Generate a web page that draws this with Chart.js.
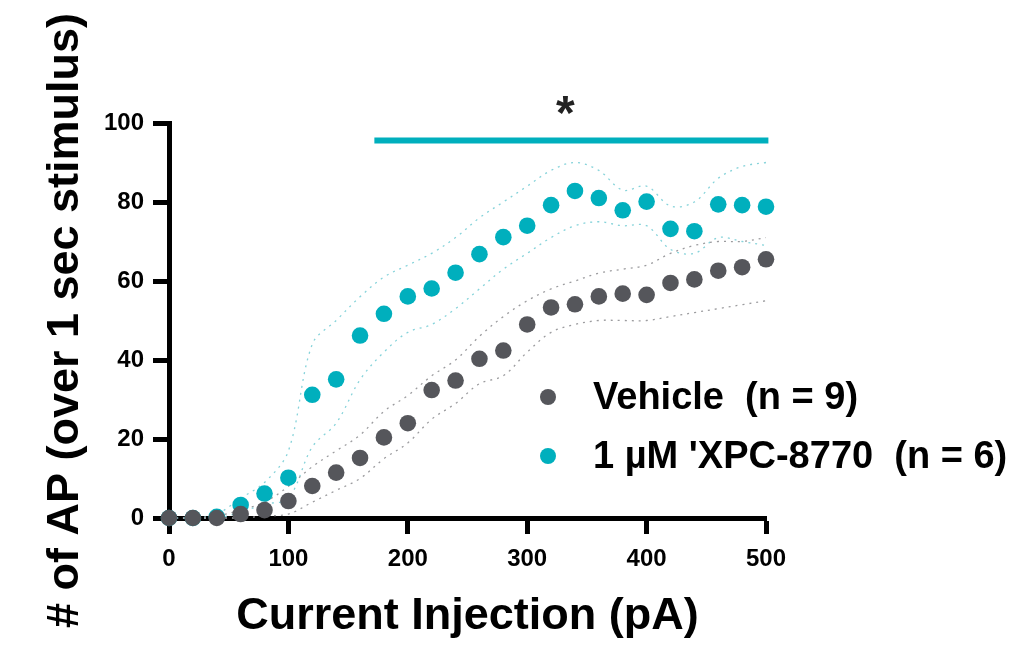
<!DOCTYPE html>
<html>
<head>
<meta charset="utf-8">
<script src="https://cdn.jsdelivr.net/npm/chart.js@4.4.1/dist/chart.umd.min.js"></script>
<style>
  html, body { margin: 0; padding: 0; background: #fff; }
  #wrap { width: 1012px; height: 655px; }
</style>
</head>
<body>
<div id="wrap"><canvas id="chart" width="1012" height="655"></canvas></div>
<script>
/* data */
const currents = [0, 20, 40, 60, 80, 100, 120, 140, 160, 180, 200, 220, 240, 260, 280, 300, 320, 340, 360, 380, 400, 420, 440, 460, 480, 500];

const vehicle      = [0, 0, 0, 1.0, 2.0, 4.3, 8.1, 11.5, 15.2, 20.4, 24.0, 32.4, 34.8, 40.3, 42.4, 49.0, 53.3, 54.1, 56.1, 56.8, 56.5, 59.5, 60.4, 62.6, 63.5, 65.5];
const vehicleUpper = [0, 0, 0.5, 2, 4, 8, 13, 17, 21, 27, 31, 36, 40, 46, 51, 55, 58, 60, 62, 63, 64, 67, 69, 70, 70, 71];
const vehicleLower = [0, 0, 0, 0, 0.5, 1, 4, 7, 10, 15, 19, 25, 29, 34, 36, 42, 47, 49, 50, 50, 50, 51, 52, 53, 54, 55];

const xpc      = [0, 0, 0.3, 3.3, 6.2, 10.2, 31.2, 35.1, 46.2, 51.7, 56.1, 58.1, 62.1, 66.8, 71.1, 74.0, 79.2, 82.8, 81.0, 77.9, 80.1, 73.2, 72.6, 79.4, 79.2, 78.8];
const xpcUpper = [0, 0, 1, 5, 9, 17, 44, 50, 56, 61, 64, 67, 71, 76, 80, 84, 88, 90, 88, 83, 84, 79, 80, 86, 89, 90];
const xpcLower = [0, 0, 0, 1.5, 3.5, 5, 18, 24, 35, 42, 47, 49, 53, 58, 63, 67, 71, 74, 75, 74, 74, 68, 67, 71, 70, 69];

const seriesLabels = ['Vehicle  (n = 9)', "1 \u00b5M 'XPC-8770  (n = 6)"];
const sigRange = [172, 502];   // pA span of the significance bar
const sigLevel = [95.6];       // AP count where the bar sits
const starPos = [332, 104];    // asterisk (pA, AP)
const yTicks = [0, 20, 40, 60, 80, 100];
const xTicks = [0, 100, 200, 300, 400, 500];

const FONT = '"Liberation Sans", Arial, sans-serif';
const GREY = '#55565b';
const TEAL = '#00afbd';

function pts(ys) {
  return ys.map((v, i) => ({ x: currents[i], y: v }));
}

function band(ys, color) {
  return {
    data: pts(ys),
    borderColor: color,
    borderWidth: 1.3,
    borderDash: [2, 5],
    pointRadius: 0,
    tension: 0.35,
    fill: false,
    order: 5,
    clip: false
  };
}

const extras = {
  id: 'extras',
  afterDatasetsDraw(chart) {
    const { ctx, chartArea, scales: { x, y } } = chart;
    ctx.save();
    // asterisk
    ctx.fillStyle = '#222';
    ctx.font = 'bold 48px ' + FONT;
    ctx.textAlign = 'center';
    ctx.textBaseline = 'middle';
    ctx.fillText('*', x.getPixelForValue(starPos[0]), y.getPixelForValue(starPos[1]) + 9);

    // legend
    const colors = [GREY, TEAL];
    const lx = chartArea.left + 379;
    let ly = chartArea.top + 274;
    ctx.font = 'bold 38px ' + FONT;
    ctx.textAlign = 'left';
    seriesLabels.forEach((lab, i) => {
      ctx.fillStyle = colors[i];
      ctx.beginPath();
      ctx.arc(lx, ly, 8, 0, Math.PI * 2);
      ctx.fill();
      ctx.fillStyle = '#000';
      ctx.fillText(lab, lx + 45, ly + 2);
      ly += 59;
    });
    ctx.restore();
  }
};

new Chart(document.getElementById('chart'), {
  type: 'line',
  data: {
    datasets: [
      {
        label: seriesLabels[0],
        data: pts(vehicle),
        showLine: false,
        pointRadius: 8.3,
        pointBackgroundColor: GREY,
        pointBorderWidth: 0,
        order: 0,
        clip: false
      },
      {
        label: seriesLabels[1],
        data: pts(xpc),
        showLine: false,
        pointRadius: 8.3,
        pointBackgroundColor: TEAL,
        pointBorderWidth: 0,
        order: 1,
        clip: false
      },
      band(vehicleUpper, '#9c9c9f'),
      band(vehicleLower, '#9c9c9f'),
      band(xpcUpper, '#86d3da'),
      band(xpcLower, '#86d3da'),
      {
        data: [{ x: sigRange[0], y: sigLevel[0] }, { x: sigRange[1], y: sigLevel[0] }],
        borderColor: TEAL,
        borderWidth: 6,
        borderCapStyle: 'butt',
        pointRadius: 0,
        order: 2,
        clip: false
      }
    ]
  },
  options: {
    responsive: false,
    animation: false,
    layout: { padding: { left: 0, top: 123, right: 246, bottom: 0 } },
    plugins: {
      legend: { display: false },
      tooltip: { enabled: false }
    },
    scales: {
      x: {
        type: 'linear',
        min: 0,
        max: 500,
        afterBuildTicks(s) { s.ticks = xTicks.map(v => ({ value: v })); },
        ticks: { color: '#000', font: { family: FONT, size: 24, weight: 'bold' }, padding: 11, maxRotation: 0 },
        grid: { drawOnChartArea: false, drawTicks: true, tickLength: 16, tickWidth: 5, tickColor: '#000' },
        border: { display: true, color: '#000', width: 5 },
        title: {
          display: true,
          text: 'Current Injection (pA)',
          color: '#000',
          font: { family: FONT, size: 45, weight: 'bold' },
          padding: { top: 0, bottom: 11 }
        },
        afterFit(s) { s.height = 137; }
      },
      y: {
        min: 0,
        max: 100,
        afterBuildTicks(s) { s.ticks = yTicks.map(v => ({ value: v })); },
        ticks: { color: '#000', font: { family: FONT, size: 24, weight: 'bold' }, padding: 9 },
        grid: { drawOnChartArea: false, drawTicks: true, tickLength: 16, tickWidth: 5, tickColor: '#000' },
        border: { display: true, color: '#000', width: 5 },
        title: {
          display: true,
          text: '# of AP (over 1 sec stimulus)',
          color: '#000',
          font: { family: FONT, size: 45, weight: 'bold' },
          padding: { top: 39, bottom: 0 }
        },
        afterFit(s) { s.width = 169; }
      }
    }
  },
  plugins: [extras]
});
</script>
</body>
</html>
